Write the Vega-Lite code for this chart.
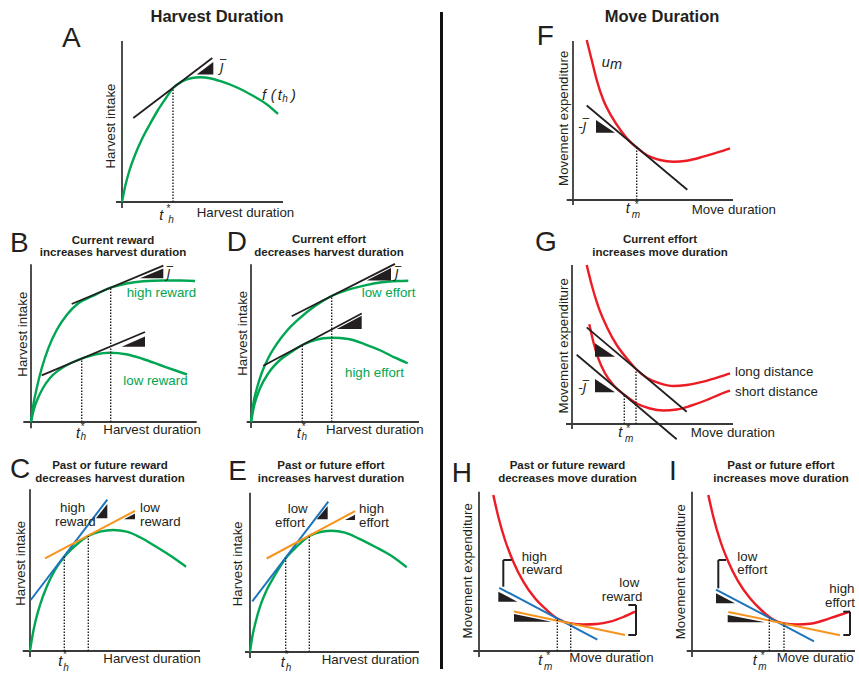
{
"$schema": "https://vega.github.io/schema/vega-lite/v6.json",
"usermeta": {"embedOptions": {"actions": false}},
"background": "#ffffff",
"padding": 0,
"spacing": 0,
"config": {"view": {"stroke": null}, "concat": {"spacing": 0},
  "text": {"font": "Liberation Sans", "fontSize": 13.3, "align": "left", "baseline": "alphabetic", "color": "#231f20"}},
"vconcat": [
{"spacing": 0, "hconcat": [
{"width": 440, "height": 226,
 "data": {"values": [
  {"k":"a","x":0,"y":-6,"x2":0,"y2":161},{"k":"a","x":-6,"y":0,"x2":161,"y2":0},
  {"k":"c","c":"g","id":"f","x":0,"y":0},{"k":"c","c":"g","id":"f","x":3,"y":15},{"k":"c","c":"g","id":"f","x":7,"y":30},{"k":"c","c":"g","id":"f","x":13,"y":47},{"k":"c","c":"g","id":"f","x":20,"y":63},{"k":"c","c":"g","id":"f","x":28,"y":78},{"k":"c","c":"g","id":"f","x":36,"y":92},{"k":"c","c":"g","id":"f","x":44,"y":104},{"k":"c","c":"g","id":"f","x":51,"y":114},{"k":"c","c":"g","id":"f","x":60,"y":120.5},{"k":"c","c":"g","id":"f","x":70,"y":124},{"k":"c","c":"g","id":"f","x":78,"y":124.7},{"k":"c","c":"g","id":"f","x":88,"y":123.8},{"k":"c","c":"g","id":"f","x":100,"y":120.3},{"k":"c","c":"g","id":"f","x":115,"y":114.5},{"k":"c","c":"g","id":"f","x":130,"y":106.7},{"k":"c","c":"g","id":"f","x":145,"y":97.5},{"k":"c","c":"g","id":"f","x":156,"y":88},
  {"k":"l","c":"k","x":11.3,"y":84,"x2":90.3,"y2":144},
  {"k":"d","x":51,"y":0,"y2":114},
  {"k":"t","id":"j","x":74.7,"y":127.5,"y2":127.5},{"k":"t","id":"j","x":91.3,"y":140,"y2":127.5},
  {"k":"J","x":98,"y":130.5,"t":"J\u0305"},
  {"k":"i","x":140,"y":102.5,"t":"f"},{"k":"i","x":148.7,"y":102.5,"t":"("},{"k":"i","x":155.7,"y":102.5,"t":"t"},{"k":"i","x":169,"y":102.5,"t":")"},{"k":"b","x":160.3,"y":100,"t":"h"},
  {"k":"i","x":37.3,"y":-18,"t":"t"},{"k":"x","x":46.5,"y":-9.6,"t":"*"},{"k":"b","x":46.3,"y":-20.7,"t":"h"},
  {"k":"n","x":74.7,"y":-14.5,"t":"Harvest duration"},
  {"k":"Y","x":-7,"y":76,"t":"Harvest intake"},
  {"k":"L","x":-60,"y":155.3,"t":"A"},
  {"k":"T","x":95,"y":180.3,"t":"Harvest Duration"}
 ]},
 "encoding": {"x": {"field":"x","type":"quantitative","scale":{"domain":[-122,318],"nice":false,"zero":false},"axis":null},
              "y": {"field":"y","type":"quantitative","stack":null,"scale":{"domain":[-24,202],"nice":false,"zero":false},"axis":null}},
 "layer": [
  {"transform":[{"filter":"datum.k==='a'"}],"mark":{"type":"rule","color":"#3a3a3a","strokeWidth":1.8},"encoding":{"x2":{"field":"x2"},"y2":{"field":"y2"}}},
  {"transform":[{"filter":"datum.k==='c'"}],"mark":{"type":"line","interpolate":"monotone","strokeWidth":2.4},"encoding":{"color":{"field":"c","type":"nominal","scale":{"domain":["g","r","b","o","k"],"range":["#00a651","#ed1c24","#1c75bc","#f7941d","#231f20"]},"legend":null},"detail":{"field":"id"}}},
  {"transform":[{"filter":"datum.k==='l'"}],"mark":{"type":"rule","strokeWidth":1.8},"encoding":{"x2":{"field":"x2"},"y2":{"field":"y2"},"color":{"field":"c","type":"nominal","scale":{"domain":["g","r","b","o","k"],"range":["#00a651","#ed1c24","#1c75bc","#f7941d","#231f20"]},"legend":null}}},
  {"transform":[{"filter":"datum.k==='d'"}],"mark":{"type":"rule","color":"#231f20","strokeWidth":1.4,"strokeDash":[1.5,1.5]},"encoding":{"y2":{"field":"y2"}}},
  {"transform":[{"filter":"datum.k==='t'"}],"mark":{"type":"area","color":"#231f20","opacity":1},"encoding":{"y2":{"field":"y2"},"detail":{"field":"id"}}},
  {"transform":[{"filter":"datum.k==='L'"}],"mark":{"type":"text","fontSize":28},"encoding":{"text":{"field":"t"}}},
  {"transform":[{"filter":"datum.k==='T'"}],"mark":{"type":"text","fontSize":16.5,"fontWeight":"bold","align":"center"},"encoding":{"text":{"field":"t"}}},
  {"transform":[{"filter":"datum.k==='n'"}],"mark":{"type":"text"},"encoding":{"text":{"field":"t"}}},
  {"transform":[{"filter":"datum.k==='Y'"}],"mark":{"type":"text","angle":270,"align":"center"},"encoding":{"text":{"field":"t"}}},
  {"transform":[{"filter":"datum.k==='i'"}],"mark":{"type":"text","fontStyle":"italic","fontSize":14.5},"encoding":{"text":{"field":"t"}}},
  {"transform":[{"filter":"datum.k==='b'"}],"mark":{"type":"text","fontStyle":"italic","fontSize":10},"encoding":{"text":{"field":"t"}}},
  {"transform":[{"filter":"datum.k==='x'"}],"mark":{"type":"text","fontSize":10,"align":"center"},"encoding":{"text":{"field":"t"}}},
  {"transform":[{"filter":"datum.k==='J'"}],"mark":{"type":"text","font":"DejaVu Sans","fontStyle":"italic","fontSize":12.5},"encoding":{"text":{"field":"t"}}}
 ]},
{"width": 419, "height": 226,
 "data": {"values": [
  {"k":"a","x":0,"y":-5,"x2":0,"y2":159},{"k":"a","x":-6.3,"y":0,"x2":160,"y2":0},
  {"k":"c","c":"r","id":"u","x":13.7,"y":160},{"k":"c","c":"r","id":"u","x":18.7,"y":140},{"k":"c","c":"r","id":"u","x":23.7,"y":120},{"k":"c","c":"r","id":"u","x":30.3,"y":100},{"k":"c","c":"r","id":"u","x":38.7,"y":83.3},{"k":"c","c":"r","id":"u","x":48.7,"y":68.3},{"k":"c","c":"r","id":"u","x":57,"y":58.3},{"k":"c","c":"r","id":"u","x":63.7,"y":52.5},{"k":"c","c":"r","id":"u","x":73.7,"y":45},{"k":"c","c":"r","id":"u","x":87,"y":40},{"k":"c","c":"r","id":"u","x":100.3,"y":38.3},{"k":"c","c":"r","id":"u","x":113.7,"y":39.3},{"k":"c","c":"r","id":"u","x":130.3,"y":43.3},{"k":"c","c":"r","id":"u","x":147,"y":48.3},{"k":"c","c":"r","id":"u","x":157,"y":51.7},
  {"k":"l","c":"k","x":13.7,"y":94.5,"x2":114.3,"y2":10.2},
  {"k":"d","x":63.7,"y":0,"y2":52.5},
  {"k":"t","id":"j","x":23,"y":80,"y2":67.3},{"k":"t","id":"j","x":42,"y":67.3,"y2":67.3},
  {"k":"J","x":5.3,"y":69.3,"t":"-J\u0305"},
  {"k":"i","x":28.7,"y":133.3,"t":"u"},{"k":"i","x":37,"y":130.7,"t":"m"},
  {"k":"i","x":52.7,"y":-13.3,"t":"t"},{"k":"x","x":63.7,"y":-7.5,"t":"*"},{"k":"b","x":58.7,"y":-18.3,"t":"m"},
  {"k":"n","x":118.7,"y":-13.5,"t":"Move duration"},
  {"k":"Y","x":-4.7,"y":81.7,"t":"Movement expenditure"},
  {"k":"L","x":-36.3,"y":155,"t":"F"},
  {"k":"T","x":89,"y":178.3,"t":"Move Duration"},
  {"k":"s","x":-133,"x2":-130,"y":188,"y2":-26}
 ]},
 "encoding": {"x": {"field":"x","type":"quantitative","scale":{"domain":[-133,286],"nice":false,"zero":false},"axis":null},
              "y": {"field":"y","type":"quantitative","stack":null,"scale":{"domain":[-26,200],"nice":false,"zero":false},"axis":null}},
 "layer": [
  {"transform":[{"filter":"datum.k==='s'"}],"mark":{"type":"rect","color":"#111111"},"encoding":{"x2":{"field":"x2"},"y2":{"field":"y2"}}},
  {"transform":[{"filter":"datum.k==='a'"}],"mark":{"type":"rule","color":"#3a3a3a","strokeWidth":1.8},"encoding":{"x2":{"field":"x2"},"y2":{"field":"y2"}}},
  {"transform":[{"filter":"datum.k==='c'"}],"mark":{"type":"line","interpolate":"monotone","strokeWidth":2.4},"encoding":{"color":{"field":"c","type":"nominal","scale":{"domain":["g","r","b","o","k"],"range":["#00a651","#ed1c24","#1c75bc","#f7941d","#231f20"]},"legend":null},"detail":{"field":"id"}}},
  {"transform":[{"filter":"datum.k==='l'"}],"mark":{"type":"rule","strokeWidth":1.8},"encoding":{"x2":{"field":"x2"},"y2":{"field":"y2"},"color":{"field":"c","type":"nominal","scale":{"domain":["g","r","b","o","k"],"range":["#00a651","#ed1c24","#1c75bc","#f7941d","#231f20"]},"legend":null}}},
  {"transform":[{"filter":"datum.k==='d'"}],"mark":{"type":"rule","color":"#231f20","strokeWidth":1.4,"strokeDash":[1.5,1.5]},"encoding":{"y2":{"field":"y2"}}},
  {"transform":[{"filter":"datum.k==='t'"}],"mark":{"type":"area","color":"#231f20","opacity":1},"encoding":{"y2":{"field":"y2"},"detail":{"field":"id"}}},
  {"transform":[{"filter":"datum.k==='L'"}],"mark":{"type":"text","fontSize":28},"encoding":{"text":{"field":"t"}}},
  {"transform":[{"filter":"datum.k==='T'"}],"mark":{"type":"text","fontSize":16.5,"fontWeight":"bold","align":"center"},"encoding":{"text":{"field":"t"}}},
  {"transform":[{"filter":"datum.k==='n'"}],"mark":{"type":"text"},"encoding":{"text":{"field":"t"}}},
  {"transform":[{"filter":"datum.k==='Y'"}],"mark":{"type":"text","angle":270,"align":"center"},"encoding":{"text":{"field":"t"}}},
  {"transform":[{"filter":"datum.k==='i'"}],"mark":{"type":"text","fontStyle":"italic","fontSize":14.5},"encoding":{"text":{"field":"t"}}},
  {"transform":[{"filter":"datum.k==='b'"}],"mark":{"type":"text","fontStyle":"italic","fontSize":10},"encoding":{"text":{"field":"t"}}},
  {"transform":[{"filter":"datum.k==='x'"}],"mark":{"type":"text","fontSize":10,"align":"center"},"encoding":{"text":{"field":"t"}}},
  {"transform":[{"filter":"datum.k==='J'"}],"mark":{"type":"text","font":"DejaVu Sans","fontStyle":"italic","fontSize":12.5},"encoding":{"text":{"field":"t"}}}
 ]}
]},
{"spacing": 0, "hconcat": [
{"width": 220, "height": 222,
 "data": {"values": [
  {"k":"a","x":0,"y":-6.3,"x2":0,"y2":157.7},{"k":"a","x":-7.7,"y":0,"x2":165.7,"y2":0},
  {"k":"c","c":"g","id":"hi","x":0,"y":0},{"k":"c","c":"g","id":"hi","x":2.3,"y":17},{"k":"c","c":"g","id":"hi","x":5.7,"y":33.7},{"k":"c","c":"g","id":"hi","x":10.7,"y":53.7},{"k":"c","c":"g","id":"hi","x":17.3,"y":73.7},{"k":"c","c":"g","id":"hi","x":25.7,"y":92},{"k":"c","c":"g","id":"hi","x":35.7,"y":107},{"k":"c","c":"g","id":"hi","x":47.3,"y":118.7},{"k":"c","c":"g","id":"hi","x":60.7,"y":125.5},{"k":"c","c":"g","id":"hi","x":79.7,"y":134.3},{"k":"c","c":"g","id":"hi","x":95.7,"y":138.5},{"k":"c","c":"g","id":"hi","x":112.3,"y":140.7},{"k":"c","c":"g","id":"hi","x":132.3,"y":141.5},{"k":"c","c":"g","id":"hi","x":150,"y":141.5},{"k":"c","c":"g","id":"hi","x":164,"y":141},
  {"k":"c","c":"g","id":"lo","x":0,"y":0},{"k":"c","c":"g","id":"lo","x":3,"y":13},{"k":"c","c":"g","id":"lo","x":7,"y":24},{"k":"c","c":"g","id":"lo","x":12,"y":34},{"k":"c","c":"g","id":"lo","x":19,"y":44},{"k":"c","c":"g","id":"lo","x":28,"y":52},{"k":"c","c":"g","id":"lo","x":38,"y":58},{"k":"c","c":"g","id":"lo","x":50.7,"y":63.4},{"k":"c","c":"g","id":"lo","x":65,"y":67.8},{"k":"c","c":"g","id":"lo","x":79,"y":69.3},{"k":"c","c":"g","id":"lo","x":95,"y":67.8},{"k":"c","c":"g","id":"lo","x":112,"y":63},{"k":"c","c":"g","id":"lo","x":129,"y":57},{"k":"c","c":"g","id":"lo","x":146,"y":51},{"k":"c","c":"g","id":"lo","x":156,"y":47.5},
  {"k":"l","c":"k","x":40.7,"y":118,"x2":132.3,"y2":156.3},{"k":"l","c":"k","x":10.7,"y":46.6,"x2":114,"y2":90},
  {"k":"d","x":50.7,"y":0,"y2":63.4},{"k":"d","x":79.7,"y":0,"y2":134.3},
  {"k":"t","id":"u","x":109,"y":143.7,"y2":143.7},{"k":"t","id":"u","x":132.3,"y":153.5,"y2":143.7},
  {"k":"t","id":"v","x":90.7,"y":75.3,"y2":75.3},{"k":"t","id":"v","x":114,"y":85.5,"y2":75.3},
  {"k":"J","x":135.7,"y":143.7,"t":"J\u0305"},
  {"k":"g","x":95.7,"y":125.3,"t":"high reward"},{"k":"g","x":92.3,"y":37,"t":"low reward"},
  {"k":"i","x":45,"y":-16,"t":"t"},{"k":"x","x":51.8,"y":-8,"t":"*"},{"k":"b","x":49.5,"y":-18,"t":"h"},
  {"k":"n","x":72.3,"y":-12.3,"t":"Harvest duration"},
  {"k":"Y","x":-4.3,"y":87.8,"t":"Harvest intake"},
  {"k":"H","x":82,"y":178,"t":"Current reward"},{"k":"H","x":82,"y":166,"t":"increases harvest duration"},
  {"k":"L","x":-21,"y":170.3,"t":"B"}
 ]},
 "encoding": {"x": {"field":"x","type":"quantitative","scale":{"domain":[-31,189],"nice":false,"zero":false},"axis":null},
              "y": {"field":"y","type":"quantitative","stack":null,"scale":{"domain":[-26,196],"nice":false,"zero":false},"axis":null}},
 "layer": [
  {"transform":[{"filter":"datum.k==='a'"}],"mark":{"type":"rule","color":"#3a3a3a","strokeWidth":1.8},"encoding":{"x2":{"field":"x2"},"y2":{"field":"y2"}}},
  {"transform":[{"filter":"datum.k==='c'"}],"mark":{"type":"line","interpolate":"monotone","strokeWidth":2.4},"encoding":{"color":{"field":"c","type":"nominal","scale":{"domain":["g","r","b","o","k"],"range":["#00a651","#ed1c24","#1c75bc","#f7941d","#231f20"]},"legend":null},"detail":{"field":"id"}}},
  {"transform":[{"filter":"datum.k==='l'"}],"mark":{"type":"rule","strokeWidth":1.8},"encoding":{"x2":{"field":"x2"},"y2":{"field":"y2"},"color":{"field":"c","type":"nominal","scale":{"domain":["g","r","b","o","k"],"range":["#00a651","#ed1c24","#1c75bc","#f7941d","#231f20"]},"legend":null}}},
  {"transform":[{"filter":"datum.k==='d'"}],"mark":{"type":"rule","color":"#231f20","strokeWidth":1.4,"strokeDash":[1.5,1.5]},"encoding":{"y2":{"field":"y2"}}},
  {"transform":[{"filter":"datum.k==='t'"}],"mark":{"type":"area","color":"#231f20","opacity":1},"encoding":{"y2":{"field":"y2"},"detail":{"field":"id"}}},
  {"transform":[{"filter":"datum.k==='L'"}],"mark":{"type":"text","fontSize":28},"encoding":{"text":{"field":"t"}}},
  {"transform":[{"filter":"datum.k==='H'"}],"mark":{"type":"text","fontSize":11.5,"fontWeight":"bold","align":"center"},"encoding":{"text":{"field":"t"}}},
  {"transform":[{"filter":"datum.k==='n'"}],"mark":{"type":"text"},"encoding":{"text":{"field":"t"}}},
  {"transform":[{"filter":"datum.k==='g'"}],"mark":{"type":"text","color":"#00a651"},"encoding":{"text":{"field":"t"}}},
  {"transform":[{"filter":"datum.k==='Y'"}],"mark":{"type":"text","angle":270,"align":"center"},"encoding":{"text":{"field":"t"}}},
  {"transform":[{"filter":"datum.k==='i'"}],"mark":{"type":"text","fontStyle":"italic","fontSize":14.5},"encoding":{"text":{"field":"t"}}},
  {"transform":[{"filter":"datum.k==='b'"}],"mark":{"type":"text","fontStyle":"italic","fontSize":10},"encoding":{"text":{"field":"t"}}},
  {"transform":[{"filter":"datum.k==='x'"}],"mark":{"type":"text","fontSize":10,"align":"center"},"encoding":{"text":{"field":"t"}}},
  {"transform":[{"filter":"datum.k==='J'"}],"mark":{"type":"text","font":"DejaVu Sans","fontStyle":"italic","fontSize":12.5},"encoding":{"text":{"field":"t"}}}
 ]},
{"width": 220, "height": 222,
 "data": {"values": [
  {"k":"a","x":0,"y":-6,"x2":0,"y2":157.7},{"k":"a","x":-4.3,"y":0,"x2":168,"y2":0},
  {"k":"c","c":"g","id":"le","x":0,"y":0},{"k":"c","c":"g","id":"le","x":2.3,"y":18},{"k":"c","c":"g","id":"le","x":5.7,"y":33},{"k":"c","c":"g","id":"le","x":10.7,"y":49},{"k":"c","c":"g","id":"le","x":17.3,"y":64},{"k":"c","c":"g","id":"le","x":25.7,"y":78},{"k":"c","c":"g","id":"le","x":35.7,"y":91},{"k":"c","c":"g","id":"le","x":49,"y":104},{"k":"c","c":"g","id":"le","x":64,"y":116},{"k":"c","c":"g","id":"le","x":80.7,"y":126},{"k":"c","c":"g","id":"le","x":97.3,"y":132.3},{"k":"c","c":"g","id":"le","x":114,"y":136.7},{"k":"c","c":"g","id":"le","x":130.7,"y":139.7},{"k":"c","c":"g","id":"le","x":147.3,"y":141},{"k":"c","c":"g","id":"le","x":157.3,"y":141.3},
  {"k":"c","c":"g","id":"he","x":0,"y":0},{"k":"c","c":"g","id":"he","x":3.3,"y":17},{"k":"c","c":"g","id":"he","x":9,"y":33.7},{"k":"c","c":"g","id":"he","x":17.3,"y":48.7},{"k":"c","c":"g","id":"he","x":29,"y":62},{"k":"c","c":"g","id":"he","x":40.7,"y":70.3},{"k":"c","c":"g","id":"he","x":51.3,"y":77},{"k":"c","c":"g","id":"he","x":64,"y":82},{"k":"c","c":"g","id":"he","x":80.7,"y":84.3},{"k":"c","c":"g","id":"he","x":97.3,"y":83},{"k":"c","c":"g","id":"he","x":114,"y":77.7},{"k":"c","c":"g","id":"he","x":130.7,"y":71},{"k":"c","c":"g","id":"he","x":144,"y":64.3},{"k":"c","c":"g","id":"he","x":156.7,"y":58.7},
  {"k":"l","c":"k","x":40.7,"y":105.7,"x2":144,"y2":158.1},{"k":"l","c":"k","x":12.3,"y":56.3,"x2":110.7,"y2":108.5},
  {"k":"d","x":51.3,"y":0,"y2":77},{"k":"d","x":80.7,"y":0,"y2":126},
  {"k":"t","id":"u","x":115.7,"y":141.5,"y2":141.5},{"k":"t","id":"u","x":140,"y":154,"y2":141.5},
  {"k":"t","id":"v","x":85.7,"y":93,"y2":93},{"k":"t","id":"v","x":110.7,"y":106.3,"y2":93},
  {"k":"J","x":144,"y":143.7,"t":"J\u0305"},
  {"k":"g","x":110.7,"y":125.3,"t":"low effort"},{"k":"g","x":94,"y":45.3,"t":"high effort"},
  {"k":"i","x":45.7,"y":-16.3,"t":"t"},{"k":"x","x":52.7,"y":-8,"t":"*"},{"k":"b","x":50.5,"y":-18,"t":"h"},
  {"k":"n","x":75,"y":-12.3,"t":"Harvest duration"},
  {"k":"Y","x":-4.3,"y":88.7,"t":"Harvest intake"},
  {"k":"H","x":78,"y":178.7,"t":"Current effort"},{"k":"H","x":78,"y":166.3,"t":"decreases harvest duration"},
  {"k":"L","x":-24.3,"y":171,"t":"D"}
 ]},
 "encoding": {"x": {"field":"x","type":"quantitative","scale":{"domain":[-31,189],"nice":false,"zero":false},"axis":null},
              "y": {"field":"y","type":"quantitative","stack":null,"scale":{"domain":[-26,196],"nice":false,"zero":false},"axis":null}},
 "layer": [
  {"transform":[{"filter":"datum.k==='a'"}],"mark":{"type":"rule","color":"#3a3a3a","strokeWidth":1.8},"encoding":{"x2":{"field":"x2"},"y2":{"field":"y2"}}},
  {"transform":[{"filter":"datum.k==='c'"}],"mark":{"type":"line","interpolate":"monotone","strokeWidth":2.4},"encoding":{"color":{"field":"c","type":"nominal","scale":{"domain":["g","r","b","o","k"],"range":["#00a651","#ed1c24","#1c75bc","#f7941d","#231f20"]},"legend":null},"detail":{"field":"id"}}},
  {"transform":[{"filter":"datum.k==='l'"}],"mark":{"type":"rule","strokeWidth":1.8},"encoding":{"x2":{"field":"x2"},"y2":{"field":"y2"},"color":{"field":"c","type":"nominal","scale":{"domain":["g","r","b","o","k"],"range":["#00a651","#ed1c24","#1c75bc","#f7941d","#231f20"]},"legend":null}}},
  {"transform":[{"filter":"datum.k==='d'"}],"mark":{"type":"rule","color":"#231f20","strokeWidth":1.4,"strokeDash":[1.5,1.5]},"encoding":{"y2":{"field":"y2"}}},
  {"transform":[{"filter":"datum.k==='t'"}],"mark":{"type":"area","color":"#231f20","opacity":1},"encoding":{"y2":{"field":"y2"},"detail":{"field":"id"}}},
  {"transform":[{"filter":"datum.k==='L'"}],"mark":{"type":"text","fontSize":28},"encoding":{"text":{"field":"t"}}},
  {"transform":[{"filter":"datum.k==='H'"}],"mark":{"type":"text","fontSize":11.5,"fontWeight":"bold","align":"center"},"encoding":{"text":{"field":"t"}}},
  {"transform":[{"filter":"datum.k==='n'"}],"mark":{"type":"text"},"encoding":{"text":{"field":"t"}}},
  {"transform":[{"filter":"datum.k==='g'"}],"mark":{"type":"text","color":"#00a651"},"encoding":{"text":{"field":"t"}}},
  {"transform":[{"filter":"datum.k==='Y'"}],"mark":{"type":"text","angle":270,"align":"center"},"encoding":{"text":{"field":"t"}}},
  {"transform":[{"filter":"datum.k==='i'"}],"mark":{"type":"text","fontStyle":"italic","fontSize":14.5},"encoding":{"text":{"field":"t"}}},
  {"transform":[{"filter":"datum.k==='b'"}],"mark":{"type":"text","fontStyle":"italic","fontSize":10},"encoding":{"text":{"field":"t"}}},
  {"transform":[{"filter":"datum.k==='x'"}],"mark":{"type":"text","fontSize":10,"align":"center"},"encoding":{"text":{"field":"t"}}},
  {"transform":[{"filter":"datum.k==='J'"}],"mark":{"type":"text","font":"DejaVu Sans","fontStyle":"italic","fontSize":12.5},"encoding":{"text":{"field":"t"}}}
 ]},
{"width": 419, "height": 222,
 "data": {"values": [
  {"k":"a","x":0,"y":-5,"x2":0,"y2":159},{"k":"a","x":-6,"y":0,"x2":161,"y2":0},
  {"k":"c","c":"r","id":"L","x":14.7,"y":159},{"k":"c","c":"r","id":"L","x":19.7,"y":139},{"k":"c","c":"r","id":"L","x":26.3,"y":117.3},{"k":"c","c":"r","id":"L","x":34.7,"y":97.3},{"k":"c","c":"r","id":"L","x":44.7,"y":79},{"k":"c","c":"r","id":"L","x":54.7,"y":65.7},{"k":"c","c":"r","id":"L","x":64,"y":55},{"k":"c","c":"r","id":"L","x":74.7,"y":46.3},{"k":"c","c":"r","id":"L","x":88,"y":40.7},{"k":"c","c":"r","id":"L","x":101.3,"y":38},{"k":"c","c":"r","id":"L","x":114.7,"y":39},{"k":"c","c":"r","id":"L","x":131.3,"y":42.3},{"k":"c","c":"r","id":"L","x":148,"y":47.3},{"k":"c","c":"r","id":"L","x":158,"y":50.7},
  {"k":"c","c":"r","id":"S","x":17.3,"y":99.7},{"k":"c","c":"r","id":"S","x":21.3,"y":82.3},{"k":"c","c":"r","id":"S","x":26.3,"y":65.7},{"k":"c","c":"r","id":"S","x":33,"y":50.7},{"k":"c","c":"r","id":"S","x":41.3,"y":39},{"k":"c","c":"r","id":"S","x":52.3,"y":29.2},{"k":"c","c":"r","id":"S","x":64.7,"y":20.5},{"k":"c","c":"r","id":"S","x":78,"y":15.5},{"k":"c","c":"r","id":"S","x":91.3,"y":13.5},{"k":"c","c":"r","id":"S","x":104.7,"y":14.5},{"k":"c","c":"r","id":"S","x":118,"y":18},{"k":"c","c":"r","id":"S","x":134.7,"y":24},{"k":"c","c":"r","id":"S","x":148,"y":29.7},{"k":"c","c":"r","id":"S","x":158,"y":33.3},
  {"k":"l","c":"k","x":14.7,"y":96.6,"x2":114.7,"y2":12.3},{"k":"l","c":"k","x":4.7,"y":69.2,"x2":104.7,"y2":-15.3},
  {"k":"d","x":52.3,"y":0,"y2":29.2},{"k":"d","x":64,"y":0,"y2":55},
  {"k":"t","id":"u","x":23,"y":80.7,"y2":67.3},{"k":"t","id":"u","x":43,"y":67.3,"y2":67.3},
  {"k":"t","id":"v","x":23,"y":45,"y2":31.7},{"k":"t","id":"v","x":43,"y":31.7,"y2":31.7},
  {"k":"J","x":6.3,"y":31.7,"t":"-J\u0305"},
  {"k":"n","x":163,"y":48.3,"t":"long distance"},{"k":"n","x":163,"y":28.3,"t":"short distance"},
  {"k":"i","x":46.3,"y":-12.7,"t":"t"},{"k":"x","x":56.3,"y":-7.8,"t":"*"},{"k":"b","x":53,"y":-18.3,"t":"m"},
  {"k":"n","x":118.7,"y":-12.7,"t":"Move duration"},
  {"k":"Y","x":-3.7,"y":78.2,"t":"Movement expenditure"},
  {"k":"H","x":88,"y":180.7,"t":"Current effort"},{"k":"H","x":88,"y":168.3,"t":"increases move duration"},
  {"k":"L","x":-37,"y":173,"t":"G"},
  {"k":"s","x":-132,"x2":-129,"y":198,"y2":-24}
 ]},
 "encoding": {"x": {"field":"x","type":"quantitative","scale":{"domain":[-132,287],"nice":false,"zero":false},"axis":null},
              "y": {"field":"y","type":"quantitative","stack":null,"scale":{"domain":[-24,198],"nice":false,"zero":false},"axis":null}},
 "layer": [
  {"transform":[{"filter":"datum.k==='s'"}],"mark":{"type":"rect","color":"#111111"},"encoding":{"x2":{"field":"x2"},"y2":{"field":"y2"}}},
  {"transform":[{"filter":"datum.k==='a'"}],"mark":{"type":"rule","color":"#3a3a3a","strokeWidth":1.8},"encoding":{"x2":{"field":"x2"},"y2":{"field":"y2"}}},
  {"transform":[{"filter":"datum.k==='c'"}],"mark":{"type":"line","interpolate":"monotone","strokeWidth":2.4},"encoding":{"color":{"field":"c","type":"nominal","scale":{"domain":["g","r","b","o","k"],"range":["#00a651","#ed1c24","#1c75bc","#f7941d","#231f20"]},"legend":null},"detail":{"field":"id"}}},
  {"transform":[{"filter":"datum.k==='l'"}],"mark":{"type":"rule","strokeWidth":1.8},"encoding":{"x2":{"field":"x2"},"y2":{"field":"y2"},"color":{"field":"c","type":"nominal","scale":{"domain":["g","r","b","o","k"],"range":["#00a651","#ed1c24","#1c75bc","#f7941d","#231f20"]},"legend":null}}},
  {"transform":[{"filter":"datum.k==='d'"}],"mark":{"type":"rule","color":"#231f20","strokeWidth":1.4,"strokeDash":[1.5,1.5]},"encoding":{"y2":{"field":"y2"}}},
  {"transform":[{"filter":"datum.k==='t'"}],"mark":{"type":"area","color":"#231f20","opacity":1},"encoding":{"y2":{"field":"y2"},"detail":{"field":"id"}}},
  {"transform":[{"filter":"datum.k==='L'"}],"mark":{"type":"text","fontSize":28},"encoding":{"text":{"field":"t"}}},
  {"transform":[{"filter":"datum.k==='H'"}],"mark":{"type":"text","fontSize":11.5,"fontWeight":"bold","align":"center"},"encoding":{"text":{"field":"t"}}},
  {"transform":[{"filter":"datum.k==='n'"}],"mark":{"type":"text"},"encoding":{"text":{"field":"t"}}},
  {"transform":[{"filter":"datum.k==='Y'"}],"mark":{"type":"text","angle":270,"align":"center"},"encoding":{"text":{"field":"t"}}},
  {"transform":[{"filter":"datum.k==='i'"}],"mark":{"type":"text","fontStyle":"italic","fontSize":14.5},"encoding":{"text":{"field":"t"}}},
  {"transform":[{"filter":"datum.k==='b'"}],"mark":{"type":"text","fontStyle":"italic","fontSize":10},"encoding":{"text":{"field":"t"}}},
  {"transform":[{"filter":"datum.k==='x'"}],"mark":{"type":"text","fontSize":10,"align":"center"},"encoding":{"text":{"field":"t"}}},
  {"transform":[{"filter":"datum.k==='J'"}],"mark":{"type":"text","font":"DejaVu Sans","fontStyle":"italic","fontSize":12.5},"encoding":{"text":{"field":"t"}}}
 ]}
]},
{"spacing": 0, "hconcat": [
{"width": 220, "height": 228,
 "data": {"values": [
  {"k":"a","x":0,"y":-6,"x2":0,"y2":161.7},{"k":"a","x":-7.3,"y":0,"x2":170,"y2":0},
  {"k":"c","c":"g","id":"f","x":0,"y":0},{"k":"c","c":"g","id":"f","x":2.3,"y":14.3},{"k":"c","c":"g","id":"f","x":5,"y":27.7},{"k":"c","c":"g","id":"f","x":10,"y":46},{"k":"c","c":"g","id":"f","x":16.7,"y":64.3},{"k":"c","c":"g","id":"f","x":25,"y":81},{"k":"c","c":"g","id":"f","x":35,"y":95},{"k":"c","c":"g","id":"f","x":46.7,"y":106.5},{"k":"c","c":"g","id":"f","x":58.3,"y":115},{"k":"c","c":"g","id":"f","x":70,"y":119.3},{"k":"c","c":"g","id":"f","x":83.3,"y":121},{"k":"c","c":"g","id":"f","x":96.7,"y":119.3},{"k":"c","c":"g","id":"f","x":110,"y":113.7},{"k":"c","c":"g","id":"f","x":123.3,"y":106},{"k":"c","c":"g","id":"f","x":136.7,"y":97.7},{"k":"c","c":"g","id":"f","x":146.7,"y":91},{"k":"c","c":"g","id":"f","x":156,"y":84.3},
  {"k":"l","c":"b","x":0.7,"y":51,"x2":77.3,"y2":151.3},{"k":"l","c":"o","x":15,"y":92.7,"x2":105,"y2":140.1},
  {"k":"d","x":34.3,"y":0,"y2":95},{"k":"d","x":58.3,"y":0,"y2":115},
  {"k":"t","id":"u","x":66,"y":132.7,"y2":132.7},{"k":"t","id":"u","x":77.3,"y":147,"y2":132.7},
  {"k":"t","id":"v","x":94,"y":131.7,"y2":131.7},{"k":"t","id":"v","x":105,"y":137.5,"y2":131.7},
  {"k":"n","x":30,"y":139.3,"t":"high"},{"k":"n","x":25,"y":125,"t":"reward"},{"k":"n","x":110,"y":139.3,"t":"low"},{"k":"n","x":110,"y":125,"t":"reward"},
  {"k":"i","x":28.3,"y":-15,"t":"t"},{"k":"x","x":35,"y":-6.5,"t":"*"},{"k":"b","x":33.3,"y":-19.7,"t":"h"},
  {"k":"n","x":73.3,"y":-12.3,"t":"Harvest duration"},
  {"k":"Y","x":-5,"y":87.7,"t":"Harvest intake"},
  {"k":"H","x":80,"y":181.7,"t":"Past or future reward"},{"k":"H","x":80,"y":169.3,"t":"decreases harvest duration"},
  {"k":"L","x":-20,"y":172.7,"t":"C"}
 ]},
 "encoding": {"x": {"field":"x","type":"quantitative","scale":{"domain":[-30,190],"nice":false,"zero":false},"axis":null},
              "y": {"field":"y","type":"quantitative","stack":null,"scale":{"domain":[-25,203],"nice":false,"zero":false},"axis":null}},
 "layer": [
  {"transform":[{"filter":"datum.k==='a'"}],"mark":{"type":"rule","color":"#3a3a3a","strokeWidth":1.8},"encoding":{"x2":{"field":"x2"},"y2":{"field":"y2"}}},
  {"transform":[{"filter":"datum.k==='c'"}],"mark":{"type":"line","interpolate":"monotone","strokeWidth":2.4},"encoding":{"color":{"field":"c","type":"nominal","scale":{"domain":["g","r","b","o","k"],"range":["#00a651","#ed1c24","#1c75bc","#f7941d","#231f20"]},"legend":null},"detail":{"field":"id"}}},
  {"transform":[{"filter":"datum.k==='l'"}],"mark":{"type":"rule","strokeWidth":2},"encoding":{"x2":{"field":"x2"},"y2":{"field":"y2"},"color":{"field":"c","type":"nominal","scale":{"domain":["g","r","b","o","k"],"range":["#00a651","#ed1c24","#1c75bc","#f7941d","#231f20"]},"legend":null}}},
  {"transform":[{"filter":"datum.k==='d'"}],"mark":{"type":"rule","color":"#231f20","strokeWidth":1.4,"strokeDash":[1.5,1.5]},"encoding":{"y2":{"field":"y2"}}},
  {"transform":[{"filter":"datum.k==='t'"}],"mark":{"type":"area","color":"#231f20","opacity":1},"encoding":{"y2":{"field":"y2"},"detail":{"field":"id"}}},
  {"transform":[{"filter":"datum.k==='L'"}],"mark":{"type":"text","fontSize":28},"encoding":{"text":{"field":"t"}}},
  {"transform":[{"filter":"datum.k==='H'"}],"mark":{"type":"text","fontSize":11.5,"fontWeight":"bold","align":"center"},"encoding":{"text":{"field":"t"}}},
  {"transform":[{"filter":"datum.k==='n'"}],"mark":{"type":"text"},"encoding":{"text":{"field":"t"}}},
  {"transform":[{"filter":"datum.k==='Y'"}],"mark":{"type":"text","angle":270,"align":"center"},"encoding":{"text":{"field":"t"}}},
  {"transform":[{"filter":"datum.k==='i'"}],"mark":{"type":"text","fontStyle":"italic","fontSize":14.5},"encoding":{"text":{"field":"t"}}},
  {"transform":[{"filter":"datum.k==='b'"}],"mark":{"type":"text","fontStyle":"italic","fontSize":10},"encoding":{"text":{"field":"t"}}},
  {"transform":[{"filter":"datum.k==='x'"}],"mark":{"type":"text","fontSize":10,"align":"center"},"encoding":{"text":{"field":"t"}}}
 ]},
{"width": 220, "height": 228,
 "data": {"values": [
  {"k":"a","x":0,"y":-6,"x2":0,"y2":159.3},{"k":"a","x":-5,"y":0,"x2":169,"y2":0},
  {"k":"c","c":"g","id":"f","x":0,"y":0},{"k":"c","c":"g","id":"f","x":2.3,"y":15.3},{"k":"c","c":"g","id":"f","x":5.7,"y":30.3},{"k":"c","c":"g","id":"f","x":10,"y":45.3},{"k":"c","c":"g","id":"f","x":16.7,"y":62},{"k":"c","c":"g","id":"f","x":25,"y":77},{"k":"c","c":"g","id":"f","x":35.7,"y":93.7},{"k":"c","c":"g","id":"f","x":46.7,"y":105.3},{"k":"c","c":"g","id":"f","x":59.3,"y":116},{"k":"c","c":"g","id":"f","x":71.7,"y":120.3},{"k":"c","c":"g","id":"f","x":81.7,"y":121.3},{"k":"c","c":"g","id":"f","x":95,"y":119.3},{"k":"c","c":"g","id":"f","x":108.3,"y":113.7},{"k":"c","c":"g","id":"f","x":125,"y":105.3},{"k":"c","c":"g","id":"f","x":141.7,"y":96},{"k":"c","c":"g","id":"f","x":156.7,"y":84.7},
  {"k":"l","c":"b","x":2.3,"y":50.7,"x2":78.3,"y2":150.3},{"k":"l","c":"o","x":16.7,"y":93.5,"x2":105,"y2":140.8},
  {"k":"d","x":35.7,"y":0,"y2":94},{"k":"d","x":59.3,"y":0,"y2":116},
  {"k":"t","id":"u","x":66.7,"y":132.7,"y2":132.7},{"k":"t","id":"u","x":77.7,"y":146,"y2":132.7},
  {"k":"t","id":"v","x":95,"y":132,"y2":132},{"k":"t","id":"v","x":105,"y":137.3,"y2":132},
  {"k":"n","x":37.7,"y":138.7,"t":"low"},{"k":"n","x":25,"y":125.3,"t":"effort"},{"k":"n","x":109,"y":138.7,"t":"high"},{"k":"n","x":109,"y":125.3,"t":"effort"},
  {"k":"i","x":30.7,"y":-14.7,"t":"t"},{"k":"x","x":36.7,"y":-5.5,"t":"*"},{"k":"b","x":35.7,"y":-18.7,"t":"h"},
  {"k":"n","x":71.7,"y":-12,"t":"Harvest duration"},
  {"k":"Y","x":-8.3,"y":88.2,"t":"Harvest intake"},
  {"k":"H","x":81,"y":182.7,"t":"Past or future effort"},{"k":"H","x":81,"y":170.3,"t":"increases harvest duration"},
  {"k":"L","x":-21.7,"y":172,"t":"E"}
 ]},
 "encoding": {"x": {"field":"x","type":"quantitative","scale":{"domain":[-30,190],"nice":false,"zero":false},"axis":null},
              "y": {"field":"y","type":"quantitative","stack":null,"scale":{"domain":[-24,204],"nice":false,"zero":false},"axis":null}},
 "layer": [
  {"transform":[{"filter":"datum.k==='a'"}],"mark":{"type":"rule","color":"#3a3a3a","strokeWidth":1.8},"encoding":{"x2":{"field":"x2"},"y2":{"field":"y2"}}},
  {"transform":[{"filter":"datum.k==='c'"}],"mark":{"type":"line","interpolate":"monotone","strokeWidth":2.4},"encoding":{"color":{"field":"c","type":"nominal","scale":{"domain":["g","r","b","o","k"],"range":["#00a651","#ed1c24","#1c75bc","#f7941d","#231f20"]},"legend":null},"detail":{"field":"id"}}},
  {"transform":[{"filter":"datum.k==='l'"}],"mark":{"type":"rule","strokeWidth":2},"encoding":{"x2":{"field":"x2"},"y2":{"field":"y2"},"color":{"field":"c","type":"nominal","scale":{"domain":["g","r","b","o","k"],"range":["#00a651","#ed1c24","#1c75bc","#f7941d","#231f20"]},"legend":null}}},
  {"transform":[{"filter":"datum.k==='d'"}],"mark":{"type":"rule","color":"#231f20","strokeWidth":1.4,"strokeDash":[1.5,1.5]},"encoding":{"y2":{"field":"y2"}}},
  {"transform":[{"filter":"datum.k==='t'"}],"mark":{"type":"area","color":"#231f20","opacity":1},"encoding":{"y2":{"field":"y2"},"detail":{"field":"id"}}},
  {"transform":[{"filter":"datum.k==='L'"}],"mark":{"type":"text","fontSize":28},"encoding":{"text":{"field":"t"}}},
  {"transform":[{"filter":"datum.k==='H'"}],"mark":{"type":"text","fontSize":11.5,"fontWeight":"bold","align":"center"},"encoding":{"text":{"field":"t"}}},
  {"transform":[{"filter":"datum.k==='n'"}],"mark":{"type":"text"},"encoding":{"text":{"field":"t"}}},
  {"transform":[{"filter":"datum.k==='Y'"}],"mark":{"type":"text","angle":270,"align":"center"},"encoding":{"text":{"field":"t"}}},
  {"transform":[{"filter":"datum.k==='i'"}],"mark":{"type":"text","fontStyle":"italic","fontSize":14.5},"encoding":{"text":{"field":"t"}}},
  {"transform":[{"filter":"datum.k==='b'"}],"mark":{"type":"text","fontStyle":"italic","fontSize":10},"encoding":{"text":{"field":"t"}}},
  {"transform":[{"filter":"datum.k==='x'"}],"mark":{"type":"text","fontSize":10,"align":"center"},"encoding":{"text":{"field":"t"}}}
 ]},
{"width": 220, "height": 228,
 "data": {"values": [
  {"k":"a","x":0,"y":-6,"x2":0,"y2":159.3},{"k":"a","x":-5.7,"y":0,"x2":161,"y2":0},
  {"k":"c","c":"r","id":"u","x":14.3,"y":156},{"k":"c","c":"r","id":"u","x":19.3,"y":134.3},{"k":"c","c":"r","id":"u","x":26,"y":111},{"k":"c","c":"r","id":"u","x":34.3,"y":89.3},{"k":"c","c":"r","id":"u","x":44.3,"y":69.3},{"k":"c","c":"r","id":"u","x":56,"y":52.7},{"k":"c","c":"r","id":"u","x":67.7,"y":41},{"k":"c","c":"r","id":"u","x":78.3,"y":32.5},{"k":"c","c":"r","id":"u","x":91.7,"y":27.5},{"k":"c","c":"r","id":"u","x":104.3,"y":26.5},{"k":"c","c":"r","id":"u","x":117.7,"y":27},{"k":"c","c":"r","id":"u","x":131,"y":29.3},{"k":"c","c":"r","id":"u","x":144.3,"y":34},{"k":"c","c":"r","id":"u","x":156,"y":39.3},
  {"k":"l","c":"b","x":20.3,"y":63.1,"x2":118.3,"y2":11.4},{"k":"l","c":"o","x":35,"y":39.4,"x2":146,"y2":16.1},
  {"k":"l","c":"k","x":24.3,"y":91,"x2":32.7,"y2":91},{"k":"l","c":"k","x":24.3,"y":91,"x2":24.3,"y2":64.3},
  {"k":"l","c":"k","x":157,"y":46,"x2":157,"y2":16},{"k":"l","c":"k","x":149.3,"y":46,"x2":157,"y2":46},{"k":"l","c":"k","x":149.3,"y":16,"x2":157,"y2":16},
  {"k":"d","x":78.3,"y":0,"y2":32.5},{"k":"d","x":91.7,"y":0,"y2":27.5},
  {"k":"t","id":"u","x":19.3,"y":59.3,"y2":49.3},{"k":"t","id":"u","x":38.3,"y":49.3,"y2":49.3},
  {"k":"t","id":"v","x":35,"y":37,"y2":29.3},{"k":"t","id":"v","x":72.7,"y":29.3,"y2":29.3},
  {"k":"n","x":42.7,"y":90,"t":"high"},{"k":"n","x":42.7,"y":76.6,"t":"reward"},{"k":"n","x":140.3,"y":63.7,"t":"low"},{"k":"n","x":122.7,"y":50.3,"t":"reward"},
  {"k":"i","x":59.3,"y":-14,"t":"t"},{"k":"x","x":69.3,"y":-8.1,"t":"*"},{"k":"b","x":65,"y":-19,"t":"m"},
  {"k":"n","x":90.3,"y":-11.3,"t":"Move duration"},
  {"k":"Y","x":-7.3,"y":80.2,"t":"Movement expenditure"},
  {"k":"H","x":88.5,"y":181.7,"t":"Past or future reward"},{"k":"H","x":88.5,"y":169.3,"t":"decreases move duration"},
  {"k":"L","x":-27.3,"y":169.3,"t":"H"},
  {"k":"s","x":-39,"x2":-36,"y":203,"y2":-18}
 ]},
 "encoding": {"x": {"field":"x","type":"quantitative","scale":{"domain":[-39,181],"nice":false,"zero":false},"axis":null},
              "y": {"field":"y","type":"quantitative","stack":null,"scale":{"domain":[-25,203],"nice":false,"zero":false},"axis":null}},
 "layer": [
  {"transform":[{"filter":"datum.k==='s'"}],"mark":{"type":"rect","color":"#111111"},"encoding":{"x2":{"field":"x2"},"y2":{"field":"y2"}}},
  {"transform":[{"filter":"datum.k==='a'"}],"mark":{"type":"rule","color":"#3a3a3a","strokeWidth":1.8},"encoding":{"x2":{"field":"x2"},"y2":{"field":"y2"}}},
  {"transform":[{"filter":"datum.k==='c'"}],"mark":{"type":"line","interpolate":"monotone","strokeWidth":2.4},"encoding":{"color":{"field":"c","type":"nominal","scale":{"domain":["g","r","b","o","k"],"range":["#00a651","#ed1c24","#1c75bc","#f7941d","#231f20"]},"legend":null},"detail":{"field":"id"}}},
  {"transform":[{"filter":"datum.k==='l'"}],"mark":{"type":"rule","strokeWidth":2},"encoding":{"x2":{"field":"x2"},"y2":{"field":"y2"},"color":{"field":"c","type":"nominal","scale":{"domain":["g","r","b","o","k"],"range":["#00a651","#ed1c24","#1c75bc","#f7941d","#231f20"]},"legend":null}}},
  {"transform":[{"filter":"datum.k==='d'"}],"mark":{"type":"rule","color":"#231f20","strokeWidth":1.4,"strokeDash":[1.5,1.5]},"encoding":{"y2":{"field":"y2"}}},
  {"transform":[{"filter":"datum.k==='t'"}],"mark":{"type":"area","color":"#231f20","opacity":1},"encoding":{"y2":{"field":"y2"},"detail":{"field":"id"}}},
  {"transform":[{"filter":"datum.k==='L'"}],"mark":{"type":"text","fontSize":28},"encoding":{"text":{"field":"t"}}},
  {"transform":[{"filter":"datum.k==='H'"}],"mark":{"type":"text","fontSize":11.5,"fontWeight":"bold","align":"center"},"encoding":{"text":{"field":"t"}}},
  {"transform":[{"filter":"datum.k==='n'"}],"mark":{"type":"text"},"encoding":{"text":{"field":"t"}}},
  {"transform":[{"filter":"datum.k==='Y'"}],"mark":{"type":"text","angle":270,"align":"center"},"encoding":{"text":{"field":"t"}}},
  {"transform":[{"filter":"datum.k==='i'"}],"mark":{"type":"text","fontStyle":"italic","fontSize":14.5},"encoding":{"text":{"field":"t"}}},
  {"transform":[{"filter":"datum.k==='b'"}],"mark":{"type":"text","fontStyle":"italic","fontSize":10},"encoding":{"text":{"field":"t"}}},
  {"transform":[{"filter":"datum.k==='x'"}],"mark":{"type":"text","fontSize":10,"align":"center"},"encoding":{"text":{"field":"t"}}}
 ]},
{"width": 199, "height": 228,
 "data": {"values": [
  {"k":"a","x":0,"y":-6,"x2":0,"y2":159.3},{"k":"a","x":-5.3,"y":0,"x2":163,"y2":0},
  {"k":"c","c":"r","id":"u","x":16.3,"y":156},{"k":"c","c":"r","id":"u","x":21.3,"y":134.3},{"k":"c","c":"r","id":"u","x":28,"y":111},{"k":"c","c":"r","id":"u","x":36.3,"y":89.3},{"k":"c","c":"r","id":"u","x":46.3,"y":69.3},{"k":"c","c":"r","id":"u","x":58,"y":52.7},{"k":"c","c":"r","id":"u","x":69.7,"y":40.5},{"k":"c","c":"r","id":"u","x":77.3,"y":34},{"k":"c","c":"r","id":"u","x":92,"y":27.5},{"k":"c","c":"r","id":"u","x":104.7,"y":26.5},{"k":"c","c":"r","id":"u","x":118,"y":27.2},{"k":"c","c":"r","id":"u","x":131.3,"y":30.5},{"k":"c","c":"r","id":"u","x":144.7,"y":35},{"k":"c","c":"r","id":"u","x":158,"y":39.3},
  {"k":"l","c":"b","x":24,"y":61.4,"x2":122,"y2":9.7},{"k":"l","c":"o","x":36.3,"y":39.1,"x2":148,"y2":15.8},
  {"k":"l","c":"k","x":26.3,"y":91,"x2":34,"y2":91},{"k":"l","c":"k","x":26.3,"y":91,"x2":26.3,"y2":62.7},
  {"k":"l","c":"k","x":158,"y":39.3,"x2":158,"y2":16},{"k":"l","c":"k","x":151.3,"y":39.3,"x2":158,"y2":39.3},{"k":"l","c":"k","x":151.3,"y":16,"x2":158,"y2":16},
  {"k":"d","x":77.3,"y":0,"y2":33.5},{"k":"d","x":92,"y":0,"y2":27.5},
  {"k":"t","id":"u","x":24,"y":57.7,"y2":47.7},{"k":"t","id":"u","x":43,"y":47.7,"y2":47.7},
  {"k":"t","id":"v","x":35.7,"y":36,"y2":28.7},{"k":"t","id":"v","x":73,"y":28.7,"y2":28.7},
  {"k":"n","x":45.3,"y":90,"t":"low"},{"k":"n","x":45.3,"y":76.6,"t":"effort"},{"k":"n","x":137.3,"y":57.7,"t":"high"},{"k":"n","x":133,"y":44.3,"t":"effort"},
  {"k":"i","x":60.7,"y":-14,"t":"t"},{"k":"x","x":70.7,"y":-8.1,"t":"*"},{"k":"b","x":66.3,"y":-19,"t":"m"},
  {"k":"m","x":84.7,"y":-11.3,"t":"Move duration"},
  {"k":"Y","x":-7,"y":79.3,"t":"Movement expenditure"},
  {"k":"H","x":89,"y":181.7,"t":"Past or future effort"},{"k":"H","x":89,"y":169.3,"t":"increases move duration"},
  {"k":"L","x":-23,"y":171,"t":"I"}
 ]},
 "encoding": {"x": {"field":"x","type":"quantitative","scale":{"domain":[-32,167],"nice":false,"zero":false},"axis":null},
              "y": {"field":"y","type":"quantitative","stack":null,"scale":{"domain":[-25,203],"nice":false,"zero":false},"axis":null}},
 "layer": [
  {"transform":[{"filter":"datum.k==='a'"}],"mark":{"type":"rule","color":"#3a3a3a","strokeWidth":1.8},"encoding":{"x2":{"field":"x2"},"y2":{"field":"y2"}}},
  {"transform":[{"filter":"datum.k==='c'"}],"mark":{"type":"line","interpolate":"monotone","strokeWidth":2.4},"encoding":{"color":{"field":"c","type":"nominal","scale":{"domain":["g","r","b","o","k"],"range":["#00a651","#ed1c24","#1c75bc","#f7941d","#231f20"]},"legend":null},"detail":{"field":"id"}}},
  {"transform":[{"filter":"datum.k==='l'"}],"mark":{"type":"rule","strokeWidth":2},"encoding":{"x2":{"field":"x2"},"y2":{"field":"y2"},"color":{"field":"c","type":"nominal","scale":{"domain":["g","r","b","o","k"],"range":["#00a651","#ed1c24","#1c75bc","#f7941d","#231f20"]},"legend":null}}},
  {"transform":[{"filter":"datum.k==='d'"}],"mark":{"type":"rule","color":"#231f20","strokeWidth":1.4,"strokeDash":[1.5,1.5]},"encoding":{"y2":{"field":"y2"}}},
  {"transform":[{"filter":"datum.k==='t'"}],"mark":{"type":"area","color":"#231f20","opacity":1},"encoding":{"y2":{"field":"y2"},"detail":{"field":"id"}}},
  {"transform":[{"filter":"datum.k==='L'"}],"mark":{"type":"text","fontSize":28},"encoding":{"text":{"field":"t"}}},
  {"transform":[{"filter":"datum.k==='H'"}],"mark":{"type":"text","fontSize":11.5,"fontWeight":"bold","align":"center"},"encoding":{"text":{"field":"t"}}},
  {"transform":[{"filter":"datum.k==='n'"}],"mark":{"type":"text"},"encoding":{"text":{"field":"t"}}},
  {"transform":[{"filter":"datum.k==='m'"}],"mark":{"type":"text","limit":82.5,"ellipsis":" "},"encoding":{"text":{"field":"t"}}},
  {"transform":[{"filter":"datum.k==='Y'"}],"mark":{"type":"text","angle":270,"align":"center"},"encoding":{"text":{"field":"t"}}},
  {"transform":[{"filter":"datum.k==='i'"}],"mark":{"type":"text","fontStyle":"italic","fontSize":14.5},"encoding":{"text":{"field":"t"}}},
  {"transform":[{"filter":"datum.k==='b'"}],"mark":{"type":"text","fontStyle":"italic","fontSize":10},"encoding":{"text":{"field":"t"}}},
  {"transform":[{"filter":"datum.k==='x'"}],"mark":{"type":"text","fontSize":10,"align":"center"},"encoding":{"text":{"field":"t"}}}
 ]}
]}
]
}
